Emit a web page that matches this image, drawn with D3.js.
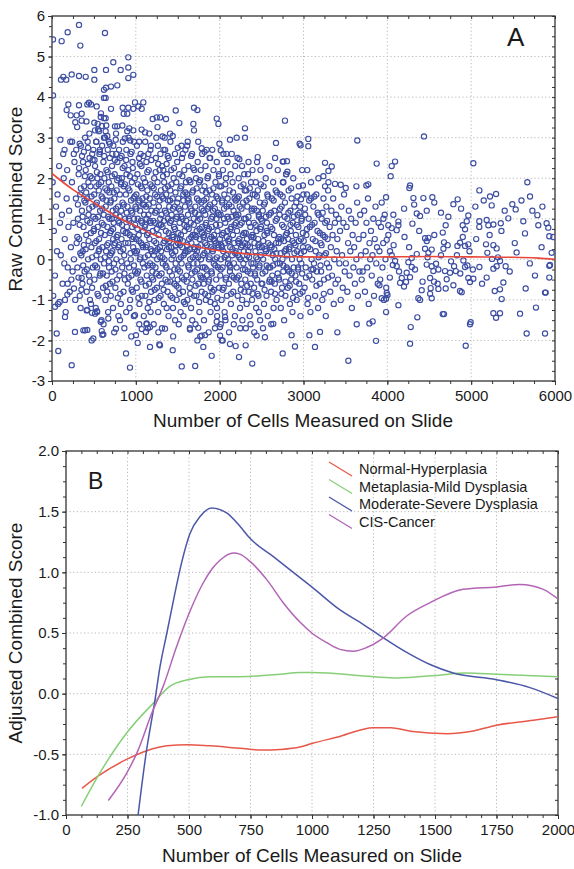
<!DOCTYPE html>
<html>
<head>
<meta charset="utf-8">
<script src="https://d3js.org/d3.v7.min.js"></script>
<style>
body { margin: 0; background: #fff; }
svg text { font-family: "Liberation Sans", Arial, sans-serif; fill: #1a1a1a; }
</style>
</head>
<body>
<svg id="chart" width="574" height="869"></svg>
<script>
//---- Panel A data: [cells measured, raw combined score] ----
var ptsHigh = [[12,5.42],[115,5.38],[187,5.6],[322,5.78],[338,5.27],[632,5.58],[12,4.04],[107,4.43],[135,4.5],[170,4.43],[235,4.56],[322,4.52],[402,4.5],[505,4.43],[505,4.67],[644,4.67],[731,4.86],[819,4.67],[910,4.98],[910,4.73],[910,4.47],[970,4.55],[620,4.18],[644,4.23],[704,4.26],[779,4.29],[620,3.98],[640,3.98],[195,3.82],[322,3.8],[354,3.59],[294,3.55],[421,3.82],[441,3.86],[465,3.82],[533,3.77],[581,3.51],[620,3.48],[640,3.48],[704,3.71],[751,3.28],[779,3.28],[843,3.74],[855,3.59],[910,3.74],[898,3.59],[990,3.87],[970,3.71],[1030,3.77],[1089,3.87],[1070,3.71],[175,3.68],[223,3.55],[278,3.38],[300,3.26],[354,3.42],[505,3.37],[545,3.34],[595,3.29],[513,3.18],[560,3.16],[640,3.16],[660,3.04],[620,3.0],[922,3.23],[970,3.18],[898,3.16],[870,2.98],[934,2.93],[1110,3.13],[1201,3.46],[1250,3.5],[1290,3.5],[1360,3.46],[1258,3.26],[1318,3.03],[1408,3.1],[1440,3.04],[1476,3.67],[1519,3.36],[1619,2.9],[1694,3.74],[1734,3.68],[1686,3.34],[1694,3.18],[1785,2.74],[1965,3.47],[1985,3.34],[1997,2.85],[2013,2.69],[2123,2.95],[2203,3.0],[2302,3.0],[2302,3.23],[2235,2.47],[2453,2.52],[2672,2.87],[2779,3.42],[2954,2.85],[2803,2.42],[2760,2.41],[2966,2.81],[3057,2.97],[3057,2.79],[3642,2.93],[4437,3.03],[2752,2.41],[2808,2.16],[2792,2.1],[2760,1.9],[3257,2.38],[3337,2.29],[3297,2.18],[3237,2.05],[3178,2.0],[3257,1.8],[3297,1.9],[3376,1.86],[3444,1.84],[3504,1.76],[3631,1.8],[3750,1.82],[3773,1.85],[2993,1.82],[3873,2.36],[4052,2.3],[4092,2.41],[4040,2.05],[3985,1.53],[4271,1.82],[4263,1.76],[4311,1.51],[4430,1.51],[4537,1.53],[4839,1.48],[5026,2.37],[5098,1.7],[5225,1.55],[5297,1.61],[5670,1.9],[5702,1.55],[2970,1.48],[3090,1.5],
  [100,2.95],[150,2.7],[240,2.9],[260,2.6],[330,2.85],[380,2.65],[430,2.75],[480,2.6],[530,2.9],[570,2.7],[690,2.85],[720,2.6],[760,2.95],[800,2.7],[830,2.55],[950,2.65],[1040,2.9],[1150,2.6],[1180,2.8],[1330,2.7],[1380,2.55],[1500,2.75],[1560,2.6],[1660,2.55],[1820,2.65],[1880,2.5],[2080,2.6]];

var ptsLow = [[56,-1.83],[75,-2.26],[235,-2.61],[155,-1.42],[36,-1.17],[91,-1.05],[183,-0.87],[262,-0.72],[187,-0.6],[155,-1.0],[354,-0.46],[453,-1.0],[421,-1.25],[477,-1.32],[537,-1.28],[374,-1.75],[421,-1.74],[493,-1.95],[593,-1.77],[612,-1.85],[763,-1.71],[883,-2.32],[930,-2.67],[1002,-1.87],[1022,-2.06],[1070,-1.72],[1129,-1.6],[1169,-2.16],[1280,-2.1],[1440,-2.24],[1548,-2.64],[1708,-2.63],[1785,-1.88],[1805,-2.16],[1905,-2.38],[2005,-1.88],[2025,-2.0],[2123,-2.09],[2191,-2.14],[2231,-2.41],[2310,-2.12],[2389,-2.57],[2441,-1.88],[2540,-1.92],[2640,-1.59],[2752,-2.32],[2858,-1.87],[2898,-2.15],[3137,-2.16],[3070,-1.87],[3197,-1.79],[3404,-1.8],[3535,-2.5],[3635,-1.6],[3786,-1.58],[3865,-2.01],[3825,-1.53],[4279,-1.67],[4271,-2.08],[4358,-1.43],[4676,-1.35],[3985,-1.3],[4935,-2.13],[4986,-1.6],[4994,-1.55],[5265,-1.33],[5297,-1.44],[5344,-1.33],[5583,-1.34],[5662,-1.83],[5773,-1.19],[5881,-1.83],
  [274,-1.79],[395,-1.75],[473,-2.0],[414,-1.26],[513,-1.34],[538,-1.3],[581,-1.54],[600,-1.86],[672,-1.46],[1288,-2.12],[1348,-1.71],[1734,-2.0],[1825,-1.87],[2036,-2.0],[2064,-1.42],[1965,-1.54],[2004,-1.67],[1646,-1.73],[1745,-1.69],[1169,-1.67],[1121,-1.79],[990,-1.38],[1129,-1.58]];

var ptsRight = [[5245,1.33],[5491,1.36],[5531,1.23],[5730,1.2],[5790,1.09],[5622,0.94],[5801,0.84],[5900,0.89],[5920,0.78],[5932,0.57],[5642,0.64],[5542,0.17],[5960,0.16],[5940,-0.14],[5761,-0.4],[5881,-0.82],[5932,-0.45],[5889,-0.82],[5650,-0.72],[5932,-0.16],[5097,0.94],[5097,0.8],[5185,0.97],[5205,0.84],[5265,0.86],[5353,0.89],[5443,1.01],[5361,0.7],[5177,0.37],[5265,0.35],[5304,0.27],[5193,0.16],[5249,0.01],[5344,-0.04],[5265,-0.23],[5304,-0.17],[5411,-0.17],[5384,-0.57],[5344,-0.74],[5281,-0.78],[5364,-0.98],[5185,-0.45],[5098,-0.19],[4966,-0.46],[4986,-0.56],[5026,-0.48],[4887,-0.81],[4867,-0.78],[4927,-0.19],[4955,-0.15],[4907,-0.03],[4927,0.33],[4836,0.33],[4867,0.41],[4966,0.37],[4966,1.08],[4947,0.94],[4899,0.84],[4927,0.74],[4788,1.36],[4728,1.05],[4696,0.84],[4661,0.66],[4676,0.42],[4669,0.26],[4688,-0.29],[4796,-0.17],[4816,-0.29],[4748,-0.33],[4708,-0.49],[4696,-0.72],[4788,-0.64],[4661,-1.35],[4470,-0.13],[4529,-0.17],[4581,-0.11],[4549,-0.29],[4609,-0.25],[4510,-0.46],[4557,-0.55],[4517,-0.71],[4609,-0.73],[4510,-0.85],[4529,-0.96],[4370,-0.96],[4390,-1.0],[4410,-0.76],[4450,0.52],[4490,0.53],[4470,0.45],[4450,0.26],[4529,0.24],[4490,0.16],[4351,1.13],[4390,1.07],[4299,0.88],[4351,0.13],[4291,0.03],[4251,-0.07],[4291,-0.19],[4231,-0.33],[4271,-0.44],[4223,-0.56],[4172,-0.46],[4152,-0.58],[4199,-0.67],[4132,-1.13],[4112,-0.17],[4092,-0.04],[4065,-0.14],[4052,0.1],[4032,0.2],[3993,0.48],[4012,0.6],[4052,0.77],[4112,0.72],[4132,0.84],[4132,0.93],[4072,1.1],[3953,1.0],[4012,0.84],[3993,-0.83],[3985,-0.97],[4002,-0.88],[3933,-0.96],[3906,-0.64],
  [4200,1.25],[4320,1.35],[4470,1.2],[4560,1.4],[4640,1.15],[4880,1.25],[5050,1.3],[5150,1.45],[5400,1.2],[5600,1.45],[5850,1.3],[4030,-0.45],[4075,0.35],[4140,-0.3],[4205,0.55],[4260,0.3],[4330,-0.25],[4380,0.7],[4420,-0.55],[4480,0.05],[4560,0.6],[4600,-0.6],[4640,0.1],[4720,0.35],[4760,-0.05],[4830,0.1],[4870,-0.35],[4900,0.55],[4980,0.2],[5020,-0.25],[5060,0.5],[5130,-0.6],[5220,0.6],[5320,0.05],[5460,-0.3],[5520,0.4],[5700,-0.1],[5840,0.3],[5980,0.55]];

var ptsCore1 = [[8,1.9],[22,0.7],[35,-0.4],[48,1.3],[60,0.2],[72,-1.1],[85,2.3],[95,0.9],[15,-0.9],[66,1.6],
  [105,0.1],[118,1.1],[126,-0.6],[140,2.0],[152,0.5],[163,-1.3],[175,1.5],[188,-0.2],[196,0.8],[134,2.6],[147,-0.1],[181,2.2],
  [204,1.2],[212,-0.8],[225,0.3],[238,1.9],[246,-0.3],[255,0.9],[268,2.4],[277,-1.0],[285,1.5],[294,0.4],[218,2.9],[262,0.0],[231,-0.5],[289,2.7],
  [303,-0.2],[310,1.0],[318,2.1],[324,0.5],[331,-0.9],[337,1.6],[344,2.8],[350,0.1],[357,1.2],[363,-0.6],[370,2.4],[376,0.8],[383,1.8],[389,-0.3],[395,3.0],[341,-1.2],[366,0.2],[398,1.4],
  [402,2.2],[408,0.6],[414,-0.8],[419,1.5],[425,2.9],[431,0.0],[436,1.1],[442,-0.4],[448,2.5],[453,0.9],[459,1.8],[465,-1.1],[470,0.3],[476,2.0],[482,1.3],[487,-0.2],[493,2.7],[497,0.7],[411,3.4],[446,3.1],[478,-0.7],[434,1.9],
  [503,1.6],[506,-0.5],[510,0.4],[514,2.3],[518,1.0],[522,-1.2],[526,2.9],[530,0.1],[534,1.4],[538,-0.2],[542,2.0],[546,0.8],[550,3.2],[554,-0.9],[558,1.7],[562,0.5],[566,2.6],[570,-0.4],[574,1.2],[578,2.1],[582,0.0],[586,1.9],[590,-1.5],[594,0.9],[598,2.8],[528,1.8],[556,0.2],[584,3.6],
  [602,0.3],[605,1.5],[609,-0.7],[613,2.4],[617,1.1],[621,-0.1],[625,2.0],[629,0.6],[633,3.0],[637,-1.0],[641,1.3],[645,0.2],[649,2.2],[653,-0.4],[657,1.7],[661,0.8],[665,2.7],[669,-1.3],[673,0.4],[677,1.9],[681,-0.2],[685,1.0],[689,2.5],[693,0.1],[697,1.4],[615,-1.6],[647,3.3],[679,2.9],[659,-0.8],[691,-0.6],
  [701,-0.9],[704,0.7],[708,1.8],[712,-0.3],[716,2.3],[720,0.2],[724,1.2],[728,-1.2],[732,2.8],[736,0.9],[740,-0.1],[744,1.5],[748,2.1],[752,0.4],[756,-0.7],[760,1.1],[764,3.1],[768,0.0],[772,1.7],[776,-0.5],[780,2.4],[784,0.6],[788,1.3],[792,-1.4],[796,2.0],[714,1.0],[742,-1.8],[766,2.6],[790,0.3],[730,0.5],
  [802,0.9],[805,-0.4],[809,1.6],[813,2.5],[817,0.2],[821,-1.1],[825,1.2],[829,0.5],[833,2.0],[837,-0.2],[841,1.4],[845,2.9],[849,0.7],[853,-0.8],[857,1.8],[861,0.1],[865,2.3],[869,-0.5],[873,1.0],[877,0.4],[881,1.6],[885,-1.3],[889,2.1],[893,0.8],[897,-0.1],[811,-1.5],[839,3.3],[863,-1.7],[887,2.7],[827,1.9],
  [901,1.3],[904,-0.6],[908,0.4],[912,2.2],[916,1.0],[920,-0.2],[924,1.7],[928,0.6],[932,-1.0],[936,2.6],[940,0.0],[944,1.2],[948,-0.4],[952,1.9],[956,0.8],[960,2.4],[964,-0.8],[968,0.3],[972,1.5],[976,-1.4],[980,1.0],[984,0.2],[988,2.0],[992,-0.3],[996,1.3],[914,3.0],[946,-1.9],[978,2.9],[958,0.5],[926,-1.2]];

var ptsCore2 = [[1003,0.5],[1007,1.6],[1011,-0.7],[1015,0.2],[1019,2.1],[1023,1.0],[1027,-0.3],[1031,1.4],[1035,0.6],[1039,2.5],[1043,-1.1],[1047,0.0],[1051,1.2],[1055,-0.5],[1059,1.8],[1063,0.4],[1067,2.3],[1071,-0.9],[1075,0.9],[1079,1.5],[1083,-0.1],[1087,0.7],[1091,2.0],[1095,-1.4],[1099,1.1],[1013,2.8],[1041,-1.6],[1069,3.2],[1085,0.3],[1057,2.6],
  [1102,-0.2],[1106,0.8],[1110,1.9],[1114,-0.9],[1118,0.3],[1122,1.3],[1126,2.4],[1130,-0.4],[1134,0.6],[1138,1.7],[1142,-1.2],[1146,0.1],[1150,1.1],[1154,2.2],[1158,-0.6],[1162,0.5],[1166,1.5],[1170,-0.1],[1174,2.7],[1178,0.9],[1182,-0.8],[1186,1.2],[1190,0.2],[1194,1.8],[1198,-0.3],[1112,2.9],[1144,-1.7],[1176,-1.3],[1160,3.1],[1128,1.0],
  [1203,0.7],[1207,-0.5],[1211,1.4],[1215,0.1],[1219,2.0],[1223,-1.0],[1227,0.9],[1231,1.6],[1235,-0.2],[1239,2.5],[1243,0.4],[1247,1.2],[1251,-0.7],[1255,0.0],[1259,1.9],[1263,2.8],[1267,-1.3],[1271,0.6],[1275,1.3],[1279,-0.4],[1283,2.2],[1287,0.3],[1291,1.0],[1295,-0.9],[1299,1.7],[1213,-1.6],[1245,3.0],[1269,-1.8],[1293,2.6],[1229,0.2],
  [1302,0.2],[1306,1.1],[1310,-0.6],[1314,2.3],[1318,0.8],[1322,-0.1],[1326,1.5],[1330,0.4],[1334,-1.1],[1338,1.9],[1342,0.0],[1346,1.2],[1350,2.7],[1354,-0.5],[1358,0.7],[1362,1.6],[1366,-0.2],[1370,2.1],[1374,0.5],[1378,-0.8],[1382,1.0],[1386,1.8],[1390,-1.4],[1394,0.3],[1398,1.3],[1312,-1.7],[1344,3.0],[1368,-1.2],[1392,2.5],[1328,2.2],
  [1403,-0.3],[1407,0.9],[1411,1.7],[1415,-0.9],[1419,0.3],[1423,2.2],[1427,1.1],[1431,-0.4],[1435,0.6],[1439,1.5],[1443,-1.2],[1447,0.1],[1451,2.0],[1455,0.8],[1459,-0.6],[1463,1.3],[1467,2.6],[1471,0.2],[1475,-0.1],[1479,1.0],[1483,1.9],[1487,-1.0],[1491,0.5],[1495,1.4],[1499,-0.5],[1413,2.9],[1445,-1.9],[1469,-1.5],[1493,2.4],[1425,0.0],
  [1502,0.4],[1506,1.5],[1510,-0.7],[1514,0.0],[1518,2.1],[1522,0.9],[1526,-0.3],[1530,1.2],[1534,-1.3],[1538,0.6],[1542,1.8],[1546,-0.1],[1550,2.5],[1554,0.3],[1558,1.0],[1562,-0.8],[1566,1.6],[1570,0.1],[1574,-0.5],[1578,2.2],[1582,0.7],[1586,1.3],[1590,-1.1],[1594,0.2],[1598,1.9],[1512,-1.6],[1544,2.8],[1568,-1.4],[1592,2.7],[1528,0.5],
  [1603,-0.4],[1607,0.8],[1611,1.6],[1615,-1.0],[1619,0.2],[1623,1.1],[1627,2.3],[1631,-0.2],[1635,0.5],[1639,1.4],[1643,-0.7],[1647,0.0],[1651,1.9],[1655,0.9],[1659,-1.2],[1663,0.4],[1667,1.2],[1671,2.6],[1675,-0.5],[1679,0.6],[1683,1.7],[1687,-0.1],[1691,1.0],[1695,-0.9],[1699,0.3],[1613,2.8],[1645,-1.7],[1673,-1.5],[1697,2.2],[1629,1.5],
  [1702,0.6],[1706,-0.3],[1710,1.3],[1714,0.1],[1718,2.0],[1722,-0.9],[1726,0.7],[1730,1.5],[1734,-0.1],[1738,2.4],[1742,0.3],[1746,-0.6],[1750,1.1],[1754,1.9],[1758,-1.3],[1762,0.5],[1766,1.0],[1770,-0.4],[1774,2.2],[1778,0.0],[1782,1.4],[1786,-0.8],[1790,0.8],[1794,1.7],[1798,-0.2],[1712,-1.6],[1744,2.9],[1768,-1.9],[1792,2.6],[1728,0.2],
  [1803,0.1],[1807,1.2],[1811,-0.6],[1815,0.6],[1819,1.8],[1823,-0.2],[1827,0.4],[1831,2.3],[1835,-1.0],[1839,0.9],[1843,1.5],[1847,-0.4],[1851,0.2],[1855,2.0],[1859,0.7],[1863,-0.9],[1867,1.3],[1871,0.0],[1875,-0.5],[1879,1.7],[1883,0.5],[1887,2.5],[1891,-1.3],[1895,0.3],[1899,1.0],[1813,-1.5],[1845,2.7],[1869,-1.8],[1893,-0.7],[1829,1.1],
  [1902,-0.3],[1906,0.8],[1910,1.6],[1914,-0.8],[1918,0.2],[1922,1.2],[1926,2.2],[1930,-0.1],[1934,0.6],[1938,1.4],[1942,-1.1],[1946,0.0],[1950,1.9],[1954,0.4],[1958,-0.5],[1962,1.0],[1966,2.4],[1970,-1.4],[1974,0.7],[1978,1.5],[1982,-0.2],[1986,0.3],[1990,1.1],[1994,-0.7],[1998,1.8],[1912,2.7],[1944,-1.7],[1968,-1.2],[1992,2.1],[1928,0.5]];

var ptsCore3 = [[2003,0.5],[2007,-0.4],[2011,1.1],[2015,0.0],[2019,1.8],[2023,-1.0],[2027,0.6],[2031,1.4],[2035,-0.2],[2039,2.2],[2043,0.2],[2047,-0.7],[2051,1.0],[2055,1.6],[2059,-1.3],[2063,0.4],[2067,0.9],[2071,-0.5],[2075,2.0],[2079,0.1],[2083,1.3],[2087,-0.9],[2091,0.7],[2095,1.5],[2099,-0.1],[2013,-1.6],[2045,2.6],[2069,-1.5],[2093,2.4],[2029,0.3],
  [2102,0.0],[2106,1.0],[2110,-0.6],[2114,0.5],[2118,1.7],[2122,-0.3],[2126,0.3],[2130,2.1],[2134,-1.1],[2138,0.8],[2142,1.3],[2146,-0.4],[2150,0.1],[2154,1.9],[2158,0.6],[2162,-0.8],[2166,1.2],[2170,-0.1],[2174,0.4],[2178,1.5],[2182,-1.4],[2186,2.3],[2190,0.2],[2194,0.9],[2198,-0.5],[2112,-1.8],[2144,2.6],[2168,-1.6],[2192,1.1],[2128,-0.2],
  [2203,-0.2],[2207,0.7],[2211,1.5],[2215,-0.9],[2219,0.1],[2223,1.1],[2227,2.0],[2231,-0.4],[2235,0.5],[2239,1.3],[2243,-1.2],[2247,0.0],[2251,1.8],[2255,0.3],[2259,-0.6],[2263,0.9],[2267,2.3],[2271,-1.5],[2275,0.6],[2279,1.4],[2283,-0.1],[2287,0.2],[2291,1.0],[2295,-0.8],[2299,1.7],[2213,2.5],[2245,-1.7],[2269,-1.0],[2293,2.1],[2229,0.4],
  [2302,0.4],[2306,-0.5],[2310,1.0],[2314,0.0],[2318,1.7],[2322,-1.1],[2326,0.5],[2330,1.3],[2334,-0.3],[2338,2.1],[2342,0.2],[2346,-0.8],[2350,0.9],[2354,1.5],[2358,-1.4],[2362,0.3],[2366,0.8],[2370,-0.6],[2374,1.9],[2378,-0.1],[2382,1.2],[2386,-1.0],[2390,0.6],[2394,1.6],[2398,-0.2],[2312,-1.7],[2344,2.4],[2368,-1.6],[2392,2.2],[2328,0.1],
  [2403,-0.1],[2407,0.9],[2411,-0.7],[2415,0.4],[2419,1.6],[2423,-0.4],[2427,0.2],[2431,1.9],[2435,-1.2],[2439,0.7],[2443,1.2],[2447,-0.5],[2451,0.0],[2455,1.7],[2459,0.5],[2463,-0.9],[2467,1.1],[2471,-0.2],[2475,0.3],[2479,1.4],[2483,-1.5],[2487,2.2],[2491,0.1],[2495,0.8],[2499,-0.6],[2413,-1.8],[2445,2.4],[2469,-1.3],[2493,1.0],
  [2504,0.3],[2509,-0.6],[2514,1.2],[2519,0.0],[2524,1.8],[2529,-1.1],[2534,0.6],[2539,1.4],[2544,-0.3],[2549,2.0],[2554,0.2],[2559,-0.9],[2564,0.9],[2569,1.6],[2574,-1.4],[2579,0.4],[2584,-0.2],[2589,1.1],[2594,2.3],[2599,-0.5],[2517,-1.7],[2561,0.7],
  [2603,-0.2],[2608,0.8],[2613,-0.8],[2618,0.3],[2623,1.5],[2628,-0.4],[2633,0.1],[2638,1.9],[2643,-1.2],[2648,0.6],[2653,1.2],[2658,-0.6],[2663,0.0],[2668,1.7],[2673,0.4],[2678,-1.0],[2683,1.0],[2688,-0.1],[2693,2.2],[2698,0.5],[2615,-1.6],[2661,2.5],
  [2704,0.4],[2709,-0.5],[2714,1.1],[2719,-0.1],[2724,1.6],[2729,-1.2],[2734,0.5],[2739,1.3],[2744,-0.7],[2749,0.0],[2754,1.9],[2759,-0.3],[2764,0.8],[2769,-1.5],[2774,0.2],[2779,1.4],[2784,-0.9],[2789,0.6],[2794,2.1],[2799,-0.2],
  [2803,0.1],[2808,1.0],[2813,-0.7],[2818,0.5],[2823,1.7],[2828,-0.3],[2833,0.3],[2838,-1.1],[2843,1.2],[2848,0.7],[2853,-0.5],[2858,1.5],[2863,0.0],[2868,-1.3],[2873,0.9],[2878,2.0],[2883,-0.2],[2888,0.4],[2893,1.3],[2898,-0.8],
  [2904,-0.4],[2909,0.6],[2914,1.4],[2919,-1.0],[2924,0.2],[2929,1.1],[2934,-0.2],[2939,0.8],[2944,1.8],[2949,-0.6],[2954,0.0],[2959,1.3],[2964,-1.4],[2969,0.5],[2974,-0.1],[2979,1.0],[2984,2.2],[2989,-0.8],[2994,0.3],[2999,1.6]];

var ptsCore4 = [[3006,0.2],[3013,-0.7],[3020,1.1],[3027,-0.2],[3034,0.6],[3041,1.6],[3048,-1.1],[3055,0.3],[3062,1.0],[3069,-0.4],[3076,0.8],[3083,-1.3],[3090,1.9],[3097,0.0],[3045,2.2],
  [3104,-0.5],[3111,0.5],[3118,1.3],[3125,-0.1],[3132,0.9],[3139,-0.9],[3146,0.2],[3153,1.6],[3160,-0.3],[3167,0.7],[3174,-1.2],[3181,1.1],[3188,0.1],[3195,-0.6],
  [3203,0.4],[3210,-0.3],[3217,1.0],[3224,-1.0],[3231,0.6],[3238,1.5],[3245,-0.5],[3252,0.1],[3259,0.9],[3266,-1.4],[3273,1.3],[3280,-0.1],[3287,0.5],[3294,1.7],
  [3305,-0.2],[3312,0.8],[3319,-0.8],[3326,0.3],[3333,1.2],[3340,-0.4],[3347,0.6],[3354,1.5],[3361,-1.1],[3368,0.0],[3375,0.9],[3382,-0.6],[3389,1.1],[3396,0.2],
  [3404,0.5],[3412,-0.5],[3420,1.0],[3428,-0.1],[3436,0.7],[3444,-1.0],[3452,1.3],[3460,0.1],[3468,-0.7],[3476,0.9],[3484,1.6],[3492,-0.3],
  [3505,-0.1],[3514,0.8],[3523,-0.8],[3532,0.4],[3541,1.2],[3550,-0.4],[3559,0.2],[3568,1.0],[3577,-1.2],[3586,0.6],[3595,-0.2],
  [3604,0.3],[3613,-0.6],[3622,0.9],[3631,0.0],[3640,1.4],[3649,-0.9],[3658,0.5],[3667,-0.3],[3676,1.1],[3685,0.1],[3694,-0.5],
  [3706,-0.3],[3715,0.6],[3724,1.2],[3733,-0.8],[3742,0.2],[3751,0.9],[3760,-0.2],[3769,1.5],[3778,-1.1],[3787,0.4],[3796,0.0],
  [3805,0.7],[3814,-0.4],[3823,0.1],[3832,1.0],[3841,-0.9],[3850,0.5],[3859,1.3],[3868,-0.1],[3877,0.3],[3886,-0.6],[3895,0.9],
  [3906,0.2],[3915,-0.5],[3924,0.8],[3933,1.4],[3942,-0.2],[3951,0.4],[3960,-1.0],[3969,1.1],[3978,0.0],[3987,-0.7]];

// extra points filling the dense middle of the cloud
var ptsFill1 = [[302,0.55],[309,1.35],[316,-0.45],[323,2.25],[330,0.85],[337,0.15],[344,1.75],[351,-0.75],[358,2.55],[365,1.05],[372,-0.15],[379,0.35],[386,1.45],[393,2.05],
  [401,0.25],[408,1.65],[415,-0.25],[422,0.95],[429,2.35],[436,0.45],[443,1.25],[450,-0.55],[457,2.05],[464,0.65],[471,1.55],[478,0.05],[485,2.45],[492,1.05],
  [501,0.75],[508,2.45],[515,-0.15],[522,1.35],[529,0.45],[536,2.15],[543,-0.85],[550,1.05],[557,1.85],[564,0.25],[571,2.65],[578,-0.35],[585,0.65],[592,1.55],
  [601,1.25],[608,-0.35],[615,0.85],[622,2.55],[629,0.05],[636,1.75],[643,-0.65],[650,1.45],[657,0.35],[664,2.15],[671,1.05],[678,-0.05],[685,1.65],[692,0.65],
  [701,1.45],[708,0.15],[715,2.05],[722,-0.55],[729,0.75],[736,1.65],[743,0.35],[750,2.45],[757,-0.25],[764,1.25],[771,0.55],[778,1.95],[785,-0.95],[792,0.95],
  [801,0.35],[808,1.05],[815,-0.85],[822,1.85],[829,-0.05],[836,0.85],[843,2.25],[850,0.25],[857,1.35],[864,-0.35],[871,1.85],[878,0.65],[885,2.45],[892,1.15],
  [901,0.65],[908,1.75],[915,-0.45],[922,0.95],[929,2.05],[936,0.15],[943,1.45],[950,-0.75],[957,1.15],[964,2.25],[971,0.55],[978,-0.15],[985,1.55],[992,0.85]];

var ptsFill2 = [[1001,0.15],[1007,1.25],[1013,-0.35],[1019,0.75],[1025,1.85],[1031,-0.95],[1037,0.45],[1043,1.45],[1049,2.35],[1055,0.05],[1061,0.95],[1067,-0.55],[1073,1.75],[1079,0.35],[1085,1.35],[1091,2.55],
  [1101,1.35],[1107,0.05],[1113,0.85],[1119,-0.65],[1125,1.55],[1131,0.35],[1137,2.15],[1143,-0.15],[1149,0.65],[1155,1.35],[1161,-1.05],[1167,0.95],[1173,1.85],[1179,0.25],[1185,2.45],[1191,-0.45],
  [1201,-0.15],[1207,0.95],[1213,1.75],[1219,0.45],[1225,-0.75],[1231,1.15],[1237,2.15],[1243,-0.35],[1249,0.75],[1255,1.55],[1261,0.25],[1267,2.35],[1273,-0.95],[1279,0.85],[1285,1.45],[1291,0.05],
  [1301,0.85],[1307,-0.35],[1313,1.55],[1319,0.05],[1325,2.05],[1331,-0.75],[1337,0.95],[1343,0.45],[1349,1.75],[1355,-0.15],[1361,1.15],[1367,2.35],[1373,0.25],[1379,-0.55],[1385,1.45],[1391,0.65],
  [1401,0.45],[1407,1.45],[1413,-0.55],[1419,0.95],[1425,1.85],[1431,0.15],[1437,-0.95],[1443,1.25],[1449,0.55],[1455,2.25],[1461,-0.25],[1467,0.75],[1473,1.65],[1479,0.35],[1485,-0.65],[1491,1.05],
  [1501,-0.25],[1507,0.65],[1513,1.25],[1519,-0.85],[1525,0.35],[1531,1.75],[1537,0.05],[1543,1.05],[1549,-0.45],[1555,2.05],[1561,0.45],[1567,1.45],[1573,-1.05],[1579,0.85],[1585,0.15],[1591,1.65],
  [1601,0.95],[1607,-0.55],[1613,0.35],[1619,1.45],[1625,-0.15],[1631,0.75],[1637,1.95],[1643,0.25],[1649,-0.85],[1655,1.25],[1661,0.55],[1667,-0.35],[1673,1.65],[1679,0.05],[1685,2.25],[1691,0.85],
  [1701,0.25],[1707,1.15],[1713,-0.65],[1719,0.55],[1725,1.75],[1731,-0.25],[1737,0.95],[1743,0.05],[1749,1.45],[1755,-1.05],[1761,0.75],[1767,1.95],[1773,0.35],[1779,-0.45],[1785,1.25],[1791,0.65],
  [1801,-0.45],[1807,0.55],[1813,1.45],[1819,0.15],[1825,-0.85],[1831,0.85],[1837,1.65],[1843,-0.25],[1849,0.35],[1855,1.25],[1861,2.05],[1867,-0.55],[1873,0.75],[1879,0.05],[1885,1.35],[1891,-1.05],
  [1901,0.55],[1907,-0.35],[1913,1.05],[1919,0.25],[1925,1.75],[1931,-0.75],[1937,0.45],[1943,1.25],[1949,-0.15],[1955,0.85],[1961,1.55],[1967,0.05],[1973,-0.95],[1979,1.15],[1985,0.35],[1991,2.05]];

var ptsFill3 = [[2004,0.85],[2012,-0.25],[2020,0.35],[2028,1.45],[2036,-0.75],[2044,0.65],[2052,1.25],[2060,0.05],[2068,1.85],[2076,-0.45],[2084,0.55],[2092,1.05],
  [2104,0.45],[2112,1.35],[2120,-0.15],[2128,0.75],[2136,-0.85],[2144,1.05],[2152,0.25],[2160,1.65],[2168,-0.45],[2176,0.85],[2184,0.15],[2192,1.45],
  [2204,1.05],[2212,-0.45],[2220,0.45],[2228,1.55],[2236,0.05],[2244,0.85],[2252,-0.75],[2260,1.25],[2268,0.35],[2276,-0.25],[2284,1.85],[2292,0.65],
  [2304,-0.25],[2312,0.65],[2320,1.45],[2328,-0.65],[2336,0.35],[2344,1.05],[2352,0.05],[2360,1.75],[2368,-0.35],[2376,0.55],[2384,1.25],[2392,-0.85],
  [2404,0.55],[2412,1.25],[2420,-0.35],[2428,0.85],[2436,0.05],[2444,1.55],[2452,-0.85],[2460,0.35],[2468,1.05],[2476,-0.15],[2484,0.75],[2492,1.85],
  [2504,0.95],[2512,-0.35],[2520,0.45],[2528,1.35],[2536,-0.75],[2544,0.25],[2552,1.05],[2560,-0.15],[2568,0.65],[2576,1.55],[2584,0.15],[2592,-0.55],
  [2604,0.35],[2612,1.15],[2620,-0.55],[2628,0.75],[2636,-0.15],[2644,1.45],[2652,0.25],[2660,-0.85],[2668,0.95],[2676,0.15],[2684,1.65],[2692,-0.35],
  [2704,-0.45],[2712,0.55],[2720,1.25],[2728,0.15],[2736,-0.85],[2744,0.85],[2752,1.55],[2760,-0.15],[2768,0.45],[2776,1.05],[2784,-0.55],[2792,0.25],
  [2804,0.65],[2812,-0.25],[2820,1.15],[2828,0.25],[2836,-0.65],[2844,0.85],[2852,1.75],[2860,-0.35],[2868,0.45],[2876,-0.95],[2884,1.05],[2892,0.15],
  [2904,0.35],[2912,-0.55],[2920,0.85],[2928,1.55],[2936,-0.25],[2944,0.45],[2952,1.15],[2960,-0.85],[2968,0.15],[2976,0.95],[2984,-0.35],[2992,0.65],
  [3003,0.45],[3016,1.25],[3029,-0.45],[3042,0.75],[3055,-0.95],[3068,1.45],[3081,0.25],[3094,-0.25],
  [3103,0.85],[3116,-0.25],[3129,1.55],[3142,0.45],[3155,-0.65],[3168,1.15],[3181,0.05],[3194,0.65],
  [3203,-0.15],[3216,0.35],[3229,1.15],[3242,-0.85],[3255,0.55],[3268,0.15],[3281,0.95],[3294,-0.45]];

// fitted trend in panel A
var fitA = [[0,2.12],[100,1.95],[250,1.72],[400,1.52],[600,1.27],[800,1.02],[1000,0.82],[1200,0.62],[1400,0.47],[1600,0.37],[1800,0.28],[2000,0.21],[2200,0.16],[2500,0.11],[2800,0.07],[3000,0.06],[3500,0.05],[4000,0.06],[4500,0.07],[5000,0.06],[5500,0.05],[5800,0.03],[6000,0.0]];

//---- Panel B data: smoothed adjusted score per diagnosis group ----
var normalHyper = [[65,-0.78],[130,-0.68],[248,-0.54],[329,-0.47],[410,-0.43],[496,-0.42],[585,-0.43],[707,-0.45],[800,-0.465],[870,-0.46],[951,-0.44],[1000,-0.41],[1100,-0.36],[1250,-0.28],[1320,-0.28],[1400,-0.31],[1550,-0.33],[1650,-0.31],[1750,-0.26],[1900,-0.22],[2000,-0.19]];
var metaMild = [[62,-0.93],[130,-0.68],[248,-0.32],[354,-0.08],[422,0.06],[496,0.115],[585,0.14],[707,0.14],[870,0.16],[951,0.175],[1000,0.175],[1250,0.14],[1345,0.13],[1500,0.15],[1625,0.17],[1750,0.16],[2000,0.14]];
var modSevere = [[293,-1.0],[325,-0.5],[362,-0.05],[382,0.22],[410,0.5],[443,0.83],[470,1.08],[504,1.32],[545,1.46],[592,1.53],[653,1.49],[707,1.38],[748,1.28],[843,1.13],[911,1.02],[999,0.88],[1114,0.69],[1209,0.57],[1290,0.46],[1385,0.34],[1480,0.24],[1574,0.17],[1750,0.115],[1886,0.05],[2000,-0.04]];
var cisCancer = [[172,-0.88],[248,-0.65],[288,-0.49],[349,-0.16],[395,0.06],[450,0.39],[496,0.64],[557,0.91],[598,1.04],[626,1.1],[680,1.16],[707,1.15],[748,1.09],[816,0.94],[883,0.75],[951,0.59],[999,0.5],[1060,0.42],[1114,0.365],[1168,0.35],[1222,0.38],[1290,0.46],[1385,0.64],[1480,0.75],[1614,0.86],[1750,0.88],[1845,0.9],[1940,0.86],[2000,0.78]];

var seriesB = [normalHyper, metaMild, modSevere, cisCancer];
var seriesNames = ['Normal-Hyperplasia', 'Metaplasia-Mild Dysplasia', 'Moderate-Severe Dysplasia', 'CIS-Cancer'];
var seriesColors = ['#e8574a', '#86cf77', '#4b57a8', '#b264b6'];

// ticks
var xTicksA = [0, 1000, 2000, 3000, 4000, 5000, 6000];
var yTicksA = [-3, -2, -1, 0, 1, 2, 3, 4, 5, 6];
var xTicksB = [0, 250, 500, 750, 1000, 1250, 1500, 1750, 2000];
var yTicksB = [-1.0, -0.5, 0.0, 0.5, 1.0, 1.5, 2.0];

var svg = d3.select('#chart');

//draws grid, minor/major ticks, labels and the frame box for a panel
function drawFrame(x, y, xTicks, yTicks, xMinor, yMinor, fmtX, fmtY) {
    var x0 = x.range()[0], x1 = x.range()[1];
    var y0 = y.range()[0], y1 = y.range()[1];
    var g = svg.append('g');

    // dotted grid
    g.selectAll('.gx').data(xTicks.slice(1, -1)).enter().append('line')
        .attr('x1', d => x(d)).attr('x2', d => x(d))
        .attr('y1', y0).attr('y2', y1)
        .attr('stroke', '#b8b8b8').attr('stroke-dasharray', '1.2,2.4');
    g.selectAll('.gy').data(yTicks.slice(1, -1)).enter().append('line')
        .attr('x1', x0).attr('x2', x1)
        .attr('y1', d => y(d)).attr('y2', d => y(d))
        .attr('stroke', '#b8b8b8').attr('stroke-dasharray', '1.2,2.4');

    var xm = d3.range(x.domain()[0], x.domain()[1] + xMinor / 2, xMinor);
    var ym = d3.range(y.domain()[0], y.domain()[1] + yMinor / 2, yMinor);

    var axes = [
        g.append('g').attr('transform', 'translate(0,' + y0 + ')')
            .call(d3.axisBottom(x).tickValues(xm).tickSize(3).tickFormat('')),
        g.append('g').attr('transform', 'translate(0,' + y1 + ')')
            .call(d3.axisTop(x).tickValues(xm).tickSize(-3).tickFormat('')),
        g.append('g').attr('transform', 'translate(' + x0 + ',0)')
            .call(d3.axisLeft(y).tickValues(ym).tickSize(3).tickFormat('')),
        g.append('g').attr('transform', 'translate(' + x1 + ',0)')
            .call(d3.axisRight(y).tickValues(ym).tickSize(-3).tickFormat('')),
        g.append('g').attr('transform', 'translate(0,' + y0 + ')')
            .call(d3.axisBottom(x).tickValues(xTicks).tickSize(4).tickPadding(5).tickFormat(fmtX)),
        g.append('g').attr('transform', 'translate(' + x0 + ',0)')
            .call(d3.axisLeft(y).tickValues(yTicks).tickSize(4).tickPadding(3).tickFormat(fmtY))
    ];
    axes.forEach(function(a) {
        a.select('.domain').remove();
        a.selectAll('line').attr('stroke', '#333');
        a.selectAll('text').style('font-size', '15px').attr('fill', '#1a1a1a');
    });

    g.append('rect')
        .attr('x', x0).attr('y', y1)
        .attr('width', x1 - x0).attr('height', y0 - y1)
        .attr('fill', 'none').attr('stroke', '#333').attr('stroke-width', 1.3);
    return g;
}

function drawPanelA() {
    var x = d3.scaleLinear().domain([0, 6000]).range([52, 555]);
    var y = d3.scaleLinear().domain([-3, 6]).range([381, 16]);

    svg.append('clipPath').attr('id', 'clipA').append('rect')
        .attr('x', 52).attr('y', 16).attr('width', 503).attr('height', 365);

    drawFrame(x, y, xTicksA, yTicksA, 250, 0.25, d => String(d), d => String(d));

    var pts = ptsCore1.concat(ptsFill1, ptsCore2, ptsFill2, ptsCore3, ptsFill3, ptsCore4, ptsRight, ptsHigh, ptsLow);
    svg.append('g').attr('clip-path', 'url(#clipA)')
        .selectAll('circle').data(pts).enter().append('circle')
            .attr('cx', d => x(d[0]))
            .attr('cy', d => y(d[1]))
            .attr('r', 2.6)
            .attr('fill', 'none')
            .attr('stroke', '#3d4ea3')
            .attr('stroke-width', 1.15);

    var line = d3.line().x(d => x(d[0])).y(d => y(d[1])).curve(d3.curveMonotoneX);
    svg.append('path').datum(fitA)
        .attr('clip-path', 'url(#clipA)')
        .attr('d', line)
        .attr('fill', 'none').attr('stroke', '#e8473a').attr('stroke-width', 1.6);

    svg.append('text').attr('x', 507).attr('y', 46).style('font-size', '26px').text('A');

    svg.append('text').attr('x', 303).attr('y', 427).attr('text-anchor', 'middle')
        .style('font-size', '19px').text('Number of Cells Measured on Slide');
    svg.append('text').attr('transform', 'translate(22,199) rotate(-90)').attr('text-anchor', 'middle')
        .style('font-size', '19px').text('Raw Combined Score');
}

function drawPanelB() {
    var x = d3.scaleLinear().domain([0, 2000]).range([66, 558]);
    var y = d3.scaleLinear().domain([-1, 2]).range([815, 451]);

    svg.append('clipPath').attr('id', 'clipB').append('rect')
        .attr('x', 66).attr('y', 451).attr('width', 492).attr('height', 364);

    drawFrame(x, y, xTicksB, yTicksB, 62.5, 0.125, d => String(d), d => d.toFixed(1));

    var line = d3.line().x(d => x(d[0])).y(d => y(d[1])).curve(d3.curveMonotoneX);
    svg.append('g').attr('clip-path', 'url(#clipB)')
        .selectAll('path').data(seriesB).enter().append('path')
            .attr('d', line)
            .attr('fill', 'none')
            .attr('stroke', (d, i) => seriesColors[i])
            .attr('stroke-width', 1.5);

    //legend with slanted line samples
    var leg = svg.append('g');
    seriesNames.forEach(function(name, i) {
        var yy = 474 + i * 17.5;
        leg.append('line')
            .attr('x1', 329).attr('y1', yy - 12).attr('x2', 352).attr('y2', yy + 2)
            .attr('stroke', seriesColors[i]).attr('stroke-width', 1.3);
        leg.append('text').attr('x', 359).attr('y', yy)
            .style('font-size', '14.5px').text(name);
    });

    svg.append('text').attr('x', 88).attr('y', 489).style('font-size', '23px').text('B');

    svg.append('text').attr('x', 312).attr('y', 862).attr('text-anchor', 'middle')
        .style('font-size', '19px').text('Number of Cells Measured on Slide');
    svg.append('text').attr('transform', 'translate(22,633) rotate(-90)').attr('text-anchor', 'middle')
        .style('font-size', '19px').text('Adjusted Combined Score');
}

function init() {
    drawPanelA();
    drawPanelB();
}

window.onload = init;
</script>
</body>
</html>
